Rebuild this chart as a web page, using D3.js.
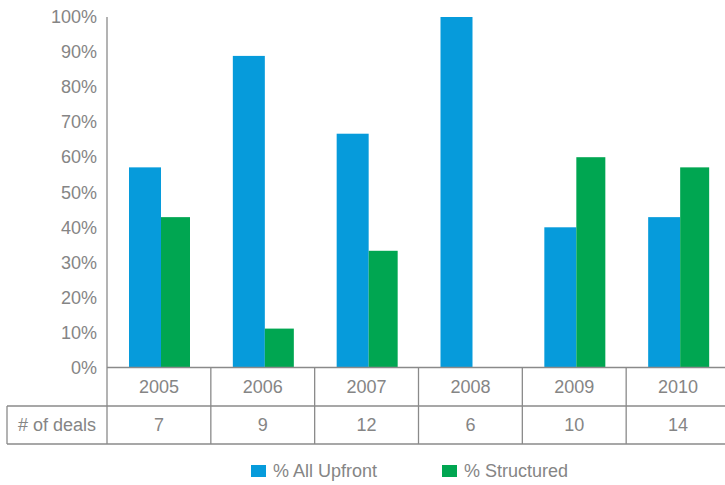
<!DOCTYPE html>
<html><head><meta charset="utf-8">
<script src="https://cdn.jsdelivr.net/npm/d3@7"></script>
<style>body{margin:0;background:#fff}svg{display:block}text{font-family:"Helvetica Neue","Liberation Sans",Arial,sans-serif;fill:#858585}</style>
</head><body>
<svg id="c" width="725" height="485"></svg>
<script>
const years = ["2005","2006","2007","2008","2009","2010"];
const upfront = [57.1, 88.9, 66.7, 100, 40, 42.9];
const structured = [42.9, 11.1, 33.3, 0, 60, 57.1];
const deals = [7, 9, 12, 6, 10, 14];
const seriesNames = ["% All Upfront", "% Structured"];
const colors = ["#069BDB", "#00A651"];
const yTicks = [0,10,20,30,40,50,60,70,80,90,100];

(function(){
const svg = d3.select("#c");
const pLeft = 107, pRight = 730, pTop = 17, base = 367.5;
const row1 = 406, row2 = 444, tableLeft = 7;
const fs = "18px";
const x0 = d3.scaleBand().domain(years).range([pLeft, pRight]).paddingInner(0).paddingOuter(0);
const x1 = d3.scaleOrdinal().domain([0,1]).range([22, 54]);
const barW = [32, 29];
const y = d3.scaleLinear().domain([0,100]).range([base, pTop]);
const lc = "#8a8a8a";

const series = [upfront, structured];
series.forEach((vals, si) => {
  svg.append("g").selectAll("rect").data(years).join("rect")
    .attr("x", d => x0(d) + x1(si))
    .attr("y", (d,i) => y(vals[i]))
    .attr("width", barW[si])
    .attr("height", (d,i) => base - y(vals[i]))
    .attr("fill", colors[si]);
});

const yAxis = d3.axisLeft(y).tickValues(yTicks).tickSize(0).tickPadding(10).tickFormat(d => d + "%");
const ga = svg.append("g").attr("transform", `translate(${pLeft},0)`).call(yAxis);
ga.select(".domain").remove();
ga.attr("font-family",null).attr("font-size",null);
ga.selectAll("text").style("font-size",fs).attr("fill","#858585");
svg.append("line").attr("x1",pLeft).attr("x2",pLeft).attr("y1",pTop).attr("y2",row2).attr("stroke",lc).attr("stroke-width",1.3);

svg.append("line").attr("x1",pLeft).attr("x2",725).attr("y1",base).attr("y2",base).attr("stroke",lc).attr("stroke-width",1.3);
[row1,row2].forEach(yy => svg.append("line").attr("x1",tableLeft).attr("x2",725).attr("y1",yy).attr("y2",yy).attr("stroke",lc).attr("stroke-width",1.3));
svg.append("line").attr("x1",tableLeft).attr("x2",tableLeft).attr("y1",row1).attr("y2",row2).attr("stroke",lc).attr("stroke-width",1.3);
svg.append("g").selectAll("line").data(years.slice(1)).join("line")
  .attr("x1", d => x0(d)).attr("x2", d => x0(d)).attr("y1", base).attr("y2", row2)
  .attr("stroke", lc).attr("stroke-width",1.3);

svg.append("g").selectAll("text").data(years).join("text")
  .attr("x", d => x0(d) + x0.bandwidth()/2).attr("y", (base+row1)/2).attr("dy","0.35em")
  .attr("text-anchor","middle").style("font-size",fs).text(d => d);
svg.append("g").selectAll("text").data(deals).join("text")
  .attr("x", (d,i) => x0(years[i]) + x0.bandwidth()/2).attr("y", (row1+row2)/2).attr("dy","0.35em")
  .attr("text-anchor","middle").style("font-size",fs).text(d => d);
svg.append("text").attr("x",(tableLeft+pLeft)/2).attr("y",(row1+row2)/2).attr("dy","0.35em")
  .attr("text-anchor","middle").style("font-size",fs).text("# of deals");

const legX = [251, 442];
seriesNames.forEach((n,i) => {
  svg.append("rect").attr("x",legX[i]).attr("y",465).attr("width",15).attr("height",12).attr("fill",colors[i]);
  svg.append("text").attr("x",legX[i]+22).attr("y",471).attr("dy","0.35em").style("font-size",fs).text(n);
});
})();
</script>
</body></html>
